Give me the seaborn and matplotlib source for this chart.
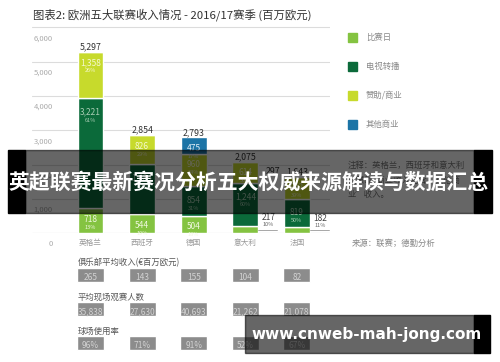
import numpy as np
import matplotlib
matplotlib.use("Agg")
import matplotlib.pyplot as plt
import seaborn as sns
from matplotlib.patches import Rectangle

# --- data ---
leagues = ["英格兰", "西班牙", "德国", "意大利", "法国"]
matchday = [718, 544, 504, 217, 182]
broadcast = [3221, 1484, 854, 1244, 819]
sponsorship = [1358, 826, 960, 614, 642]
other_commercial = [0, 0, 475, 0, 0]
totals = [5297, 2854, 2793, 2075, 1643]

matchday_pct = ["13%", "19%", "18%", "10%", "11%"]
broadcast_pct = ["61%", "52%", "31%", "60%", "50%"]
sponsorship_pct = ["26%", "29%", "34%", "30%", "39%"]
other_pct = ["", "", "17%", "", ""]

legend_labels = ["比赛日", "电视转播", "赞助/商业", "其他商业"]
y_ticks = [0, 1000, 2000, 3000, 4000, 5000, 6000]

club_revenue = ["265", "143", "155", "104", "82"]
attendance = ["35,838", "27,630", "40,693", "21,262", "21,078"]
utilisation = ["96%", "71%", "91%", "52%", "67%"]
table_titles = ["俱乐部平均收入(€百万欧元)", "平均现场观赛人数", "球场使用率"]

title = "图表2: 欧洲五大联赛收入情况 - 2016/17赛季 (百万欧元)"
note_lines = ["注释：英格兰，西班牙和意大利", "的赞助/商业收入包含“其他商", "业”收入。"]
source = "来源：联赛；德勤分析"
banner = "英超联赛最新赛况分析五大权威来源解读与数据汇总"
site = "www.cnweb-mah-jong.com"

colors = ["#84c341", "#0b6a3a", "#c7da2c", "#1c74a6"]
text_colors = ["#f0f8e0", "#a9cdb4", "#f6f9d0", "#e4f0f8"]

# --- figure / layout (pixel based) ---
W, H = 500, 362
sns.set_style("white")
plt.rcParams["font.family"] = ["Noto Sans CJK SC", "DejaVu Sans"]

fig = plt.figure(figsize=(W / 100, H / 100), dpi=100)

x_left, x_right = 32, 330
c0, step = 90.5, 51.6
xlim = ((x_left - c0) / step, (x_right - c0) / step)
zero_px, px_per_k = 233, 34.25
y_top = 6100
top_px = zero_px - y_top / 1000 * px_per_k

ax = fig.add_axes([x_left / W, 1 - zero_px / H, (x_right - x_left) / W, (zero_px - top_px) / H])

layers = [matchday, broadcast, sponsorship, other_commercial]
pcts = [matchday_pct, broadcast_pct, sponsorship_pct, other_pct]
bottom = np.zeros(len(leagues))
for k, vals in enumerate(layers):
    sns.barplot(x=leagues, y=vals, bottom=bottom, color=colors[k], saturation=1,
                width=0.5, errorbar=None, ax=ax, zorder=2)
    for i, v in enumerate(vals):
        if v <= 0:
            continue
        top = bottom[i] + v
        if v < 300:
            # small segment, label outside on the right
            ax.annotate(f"{v:,}", xy=(i, top), xytext=(23, 8), textcoords="offset pixels",
                        ha="center", va="center", fontsize=6, color="#444")
            ax.annotate(pcts[k][i], xy=(i, top), xytext=(23, 1), textcoords="offset pixels",
                        ha="center", va="center", fontsize=4, color="#666")
            ax.plot([i + 0.25, i + 0.62], [v * 0.45, v * 0.45], color="#999", lw=0.6, zorder=3)
        else:
            off = -14 if k == 1 else -11
            ax.annotate(f"{v:,}", xy=(i, top), xytext=(0, off), textcoords="offset pixels",
                        ha="center", va="center", fontsize=6, color=text_colors[k], zorder=4)
            ax.annotate(pcts[k][i], xy=(i, top), xytext=(0, off - 8), textcoords="offset pixels",
                        ha="center", va="center", fontsize=4, color=text_colors[k], zorder=4)
    bottom = bottom + np.array(vals)

for i, t in enumerate(totals):
    ax.annotate(f"{t:,}", xy=(i, t), xytext=(0, 5), textcoords="offset pixels",
                ha="center", va="center", fontsize=6.3, color="#333")
ax.annotate("297", xy=(3.53, totals[4]), xytext=(0, 5), textcoords="offset pixels",
            ha="center", va="center", fontsize=6.3, color="#333")

for v in y_ticks:
    ax.axhline(v, color="#c8c8c8" if v == 0 else "#dcdcdc", lw=0.8, zorder=0)
    ax.annotate(f"{v:,}", xy=(0, v), xycoords=("axes fraction", "data"), xytext=(21, -11),
                textcoords="offset pixels", ha="right", va="center", fontsize=5.5, color="#aaa")
for i, name in enumerate(leagues):
    ax.annotate(name, xy=(i, 0), xytext=(0, -10), textcoords="offset pixels",
                ha="center", va="center", fontsize=5.5, color="#9a9a9a")

ax.set_xlim(*xlim)
ax.set_ylim(0, y_top)
ax.set_xticks([])
ax.set_yticks([])
ax.set_xlabel("")
ax.set_ylabel("")
sns.despine(ax=ax, left=True, bottom=True)


def fx(x):
    return x / W


def fy(y):
    return 1 - y / H


def px_rect(x0, y0, x1, y1, **kw):
    return Rectangle((fx(x0), fy(y1)), (x1 - x0) / W, (y1 - y0) / H,
                     transform=fig.transFigure, **kw)


# title, legend, notes
fig.text(fx(33), fy(15), title, fontsize=8.2, fontweight="medium", color="#333",
         ha="left", va="center")
for k, lab in enumerate(legend_labels):
    yk = 37 + 29 * k
    fig.add_artist(px_rect(348, yk - 4.5, 357, yk + 4.5, color=colors[k]))
    fig.text(fx(366), fy(yk), lab, fontsize=6, color="#888", ha="left", va="center")
for j, line in enumerate(note_lines):
    fig.text(fx(348), fy(165 + 15 * j), line, fontsize=6, color="#777", ha="left", va="center")
fig.text(fx(352), fy(243), source, fontsize=6, color="#888", ha="left", va="center")

# small tables below the chart
ax_t = fig.add_axes([x_left / W, 1 - 355 / H, (x_right - x_left) / W, 100 / H])
ax_t.set_xlim(*xlim)
ax_t.set_ylim(355, 255)
ax_t.axis("off")
rows = [club_revenue, attendance, utilisation]
for r, (head, row) in enumerate(zip(table_titles, rows)):
    y0 = 263 + 34 * r
    ax_t.text((77.5 - c0) / step, y0, head, fontsize=6, color="#555", ha="left", va="center")
    ax_t.bar(range(len(row)), [14] * len(row), bottom=y0 + 5, width=0.52, color="#8c8c8c")
    for i, s in enumerate(row):
        ax_t.text(i, y0 + 15, s, fontsize=6, color="#d2d2d2", ha="center", va="center")

# overlay banners
fig.add_artist(px_rect(25, 150, 474, 213, color="black", alpha=0.6, zorder=20))
fig.add_artist(px_rect(8, 150, 25, 213, color="black", zorder=20))
fig.add_artist(px_rect(474, 150, 492, 213, color="black", zorder=20))
fig.text(fx(249), fy(182), banner, fontsize=15, fontweight="bold", color="white",
         ha="center", va="center", zorder=21)

fig.add_artist(px_rect(245, 315, 474, 353, color="black", alpha=0.6, zorder=20))
fig.add_artist(px_rect(474, 315, 490, 353, color="black", zorder=20))
fig.text(fx(367), fy(335), site, fontsize=11, fontweight="bold", color="white",
         family="DejaVu Sans", ha="center", va="center", zorder=21)

fig.savefig("out.png", dpi=100)
